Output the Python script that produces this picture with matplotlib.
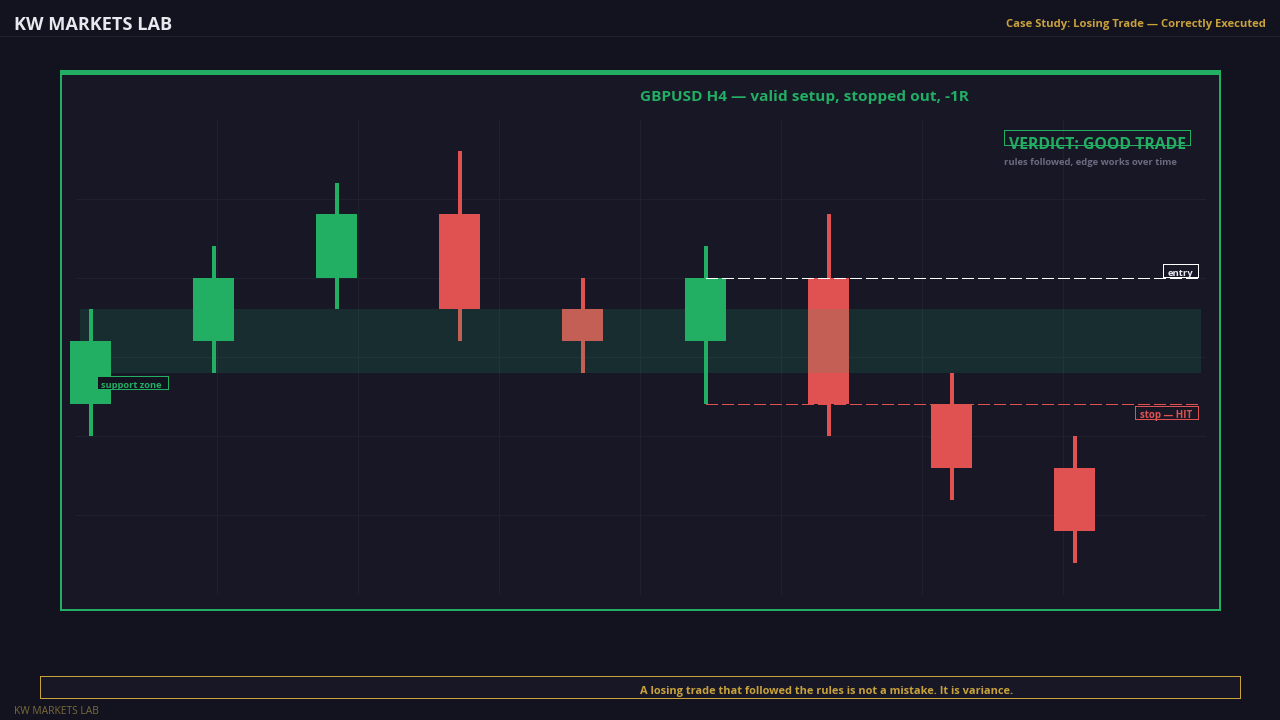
#!/usr/bin/env python3
import matplotlib
matplotlib.use("Agg")
import matplotlib.pyplot as plt
from matplotlib.patches import Rectangle

plt.rcParams['font.family'] = ['Open Sans', 'DejaVu Sans']

# candle data (GBPUSD H4)
opens = [1.2500, 1.2520, 1.2540, 1.2560, 1.2530, 1.2520, 1.2540, 1.2500, 1.2480]
highs = [1.2530, 1.2550, 1.2570, 1.2580, 1.2540, 1.2550, 1.2560, 1.2510, 1.2490]
lows = [1.2490, 1.2510, 1.2530, 1.2520, 1.2510, 1.2500, 1.2490, 1.2470, 1.2450]
closes = [1.2520, 1.2540, 1.2560, 1.2530, 1.2520, 1.2540, 1.2500, 1.2480, 1.2460]
zone_low = 1.2510
zone_high = 1.2530
entry_price = 1.2540
stop_price = 1.2500
trade_start = 5

BG = "#131320"
PANEL = "#171726"
GREEN = "#22ae63"
RED = "#e05252"
GOLD = "#c9a23c"
GRID = "#20212f"
PX = 0.72  # 1 px in points at dpi 100

fig = plt.figure(figsize=(12.8, 7.2), dpi=100, facecolor=BG)


def full_axes(z):
    a = fig.add_axes([0, 0, 1, 1], zorder=z)
    a.axis("off")
    a.patch.set_alpha(0)
    return a


# pixel layer under the candles, price layer, pixel layer for labels
under = full_axes(0)
chart = full_axes(1)
over = full_axes(2)
for a in (under, over):
    a.set_xlim(0, 1280)
    a.set_ylim(720, 0)

# index -> x px: 90.5 + 123 * i,  price -> y px: 404.4 - 31700 * (p - stop)
chart.set_xlim(-90.5 / 123, (1280 - 90.5) / 123)
chart.set_ylim(stop_price - (720 - 404.4) / 31700, stop_price + 404.4 / 31700)


def fill(a, x0, y0, x1, y1, col, z=2):
    a.add_patch(Rectangle((x0, y0), x1 - x0, y1 - y0, facecolor=col, edgecolor="none",
                          linewidth=0, antialiased=False, zorder=z))


def box(a, x0, y0, x1, y1, edge, face=None, z=2):
    # 1 px outline, outer pixel edges given
    if face:
        fill(a, x0, y0, x1, y1, face, z)
    fill(a, x0, y0, x1, y0 + 1, edge, z + 0.1)
    fill(a, x0, y1 - 1, x1, y1, edge, z + 0.1)
    fill(a, x0, y0, x0 + 1, y1, edge, z + 0.1)
    fill(a, x1 - 1, y0, x1, y1, edge, z + 0.1)


# header
fill(under, 0, 36, 1280, 37, "#20212f")
over.text(14, 24.5, "KW MARKETS LAB", color="#e8e8ee", fontsize=13.1, fontweight="bold", va="center")
over.text(1266, 24, "Case Study: Losing Trade — Correctly Executed", color=GOLD, fontsize=8.1,
          fontweight="bold", ha="right", va="center")

# panel + green frame
fill(under, 60, 70, 1221, 611, GREEN, z=1)
fill(under, 62, 75, 1219, 609, PANEL, z=1.1)

# grid
for y in [199, 278, 357, 436, 515]:
    fill(under, 76, y, 1206, y + 1, GRID)
for x in [217, 358, 499, 640, 781, 922, 1063]:
    fill(under, x, 120, x + 1, 595, GRID)

# candles
for i, (o, h, l, c) in enumerate(zip(opens, highs, lows, closes)):
    col = GREEN if c > o else RED
    chart.vlines(i, l, h, color=col, lw=4 * PX, zorder=2)
    chart.bar(i, abs(c - o), bottom=min(o, c), width=41 / 123, color=col, linewidth=0, zorder=3)

# support zone sits above the candles
chart.fill_between([-10.5 / 123, 1110.5 / 123], zone_low, zone_high, color=GREEN, alpha=0.15,
                   linewidth=0, zorder=4)

# entry and stop
chart.plot([trade_start, (1198 - 90.5) / 123], [entry_price, entry_price], color="#ffffff", lw=PX,
           dashes=(11, 5), antialiased=False, zorder=5)
chart.plot([trade_start, (1198 - 90.5) / 123], [stop_price, stop_price], color=RED, lw=PX,
           dashes=(11, 5), antialiased=False, zorder=5)

# labels
over.text(640, 96.5, "GBPUSD H4 — valid setup, stopped out, -1R", color=GREEN, fontsize=11.1,
          fontweight="bold", va="center")
box(over, 1004, 130, 1191, 146, GREEN)
over.text(1009, 145, "VERDICT: GOOD TRADE", color=GREEN, fontsize=11.3, fontweight="bold", va="center")
over.text(1004, 162.5, "rules followed, edge works over time", color="#6b6b80", fontsize=6.8,
          fontweight="bold", va="center")

box(over, 97, 376, 169, 390, GREEN, face=BG)
over.text(101, 385.5, "support zone", color=GREEN, fontsize=6.7, fontweight="bold", va="center")
box(over, 1163, 264, 1199, 278, "#ffffff", face=PANEL)
over.text(1168, 273.5, "entry", color="#e8e8ee", fontsize=6.8, fontweight="bold", va="center")
box(over, 1135, 406, 1199, 420, RED, face=PANEL)
over.text(1140, 415.5, "stop — HIT", color=RED, fontsize=7, fontweight="bold", va="center")

# footer
box(under, 40, 676, 1241, 699, GOLD, face=PANEL)
over.text(640, 691.5, "A losing trade that followed the rules is not a mistake. It is variance.", color=GOLD,
          fontsize=7.9, fontweight="bold", va="center")
over.text(14, 711, "KW MARKETS LAB", color="#7a6a3a", fontsize=7.4, va="center")

fig.savefig("out.png", dpi=100, facecolor=BG)
